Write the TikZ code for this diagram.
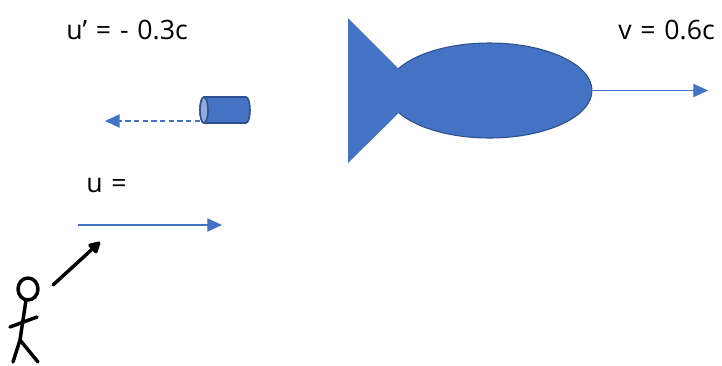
\documentclass[tikz,border=0pt]{standalone}
\usepackage{fontspec}
\setmainfont{Open Sans}
\usetikzlibrary{arrows.meta,shapes.geometric}
\definecolor{officeblue}{HTML}{4472C4}
\definecolor{darkblue}{HTML}{2F528F}
\definecolor{lightblue}{HTML}{8FAADC}
\newcommand\velofont{\fontsize{20}{24}\selectfont\spaceskip=0.33em\relax}
\begin{document}
\begin{tikzpicture}[x=0.75pt,y=-0.75pt,
    vlabel/.style={anchor=base west,inner sep=0pt,font=\velofont},
    velo/.style={officeblue,line width=0.8pt,-{Triangle[length=11pt,width=10pt]}},
    figure/.style={line width=2.6pt,line cap=round,line join=round}]
    \useasboundingbox (0,0) rectangle (722,365);
    % labels
    \node[vlabel] (uprime) at (66,39) {u’ = - 0.3c};
    \node[vlabel] (vlab) at (618,39) {v = 0.6c};
    \node[vlabel] (ulab) at (86,192) {u =};
    % ship
    \node[ellipse,draw=darkblue,fill=officeblue,line width=0.8pt,inner sep=0pt,
        minimum width=153.75pt,minimum height=71.25pt] (ship) at (489.5,90.5) {};
    \fill[officeblue] (348,18) -- (421,91) -- (348,163) -- cycle;
    \coordinate (shipend) at (708,90.5);
    \draw[velo] (ship.east) -- (shipend);
    % probe
    \filldraw[fill=officeblue,draw=darkblue,line width=1.2pt]
        (204,97) -- (246,97) arc[start angle=-90,end angle=90,x radius=4,y radius=13]
        -- (204,123) arc[start angle=90,end angle=270,x radius=4,y radius=13] -- cycle;
    \filldraw[fill=lightblue,draw=darkblue,line width=1.2pt] (204,110) ellipse [x radius=4,y radius=13];
    \coordinate (probetail) at (200,121);
    \coordinate (probehead) at (105,121);
    \draw[velo,dashed,dash pattern=on 4pt off 2.5pt] (probetail) -- (probehead);
    % observer velocity
    \coordinate (ustart) at (78,225);
    \coordinate (uend) at (222,225);
    \draw[velo] (ustart) -- (uend);
    % stick figure
    \draw[figure] (28,289) ellipse [x radius=10,y radius=11];
    \draw[figure] (26,300) -- (20,340) -- (13,362);
    \draw[figure] (20,340) -- (38,362);
    \draw[figure] (10,327) -- (37,317);
    \coordinate (throwstart) at (53,285);
    \coordinate (throwend) at (100,242);
    \draw[figure,-{Triangle[length=10pt,width=10pt,round]}] (throwstart) -- (throwend);
\end{tikzpicture}
\end{document}
